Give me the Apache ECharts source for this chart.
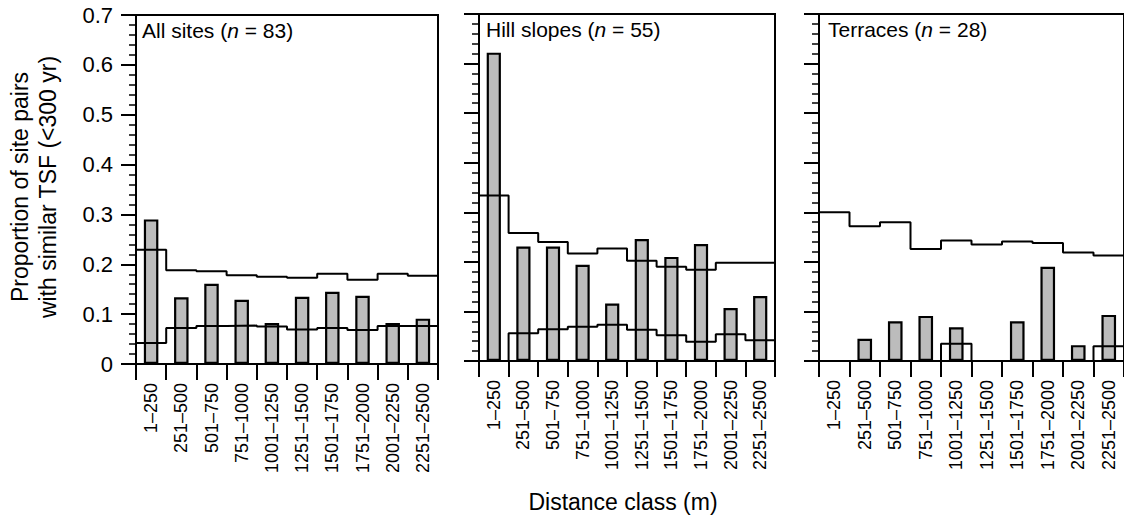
<!DOCTYPE html>
<html><head><meta charset="utf-8">
<script src="https://cdn.jsdelivr.net/npm/echarts@6/dist/echarts.min.js"></script>
<style>html,body{margin:0;padding:0;background:#fff}#c{width:1124px;height:525px}</style>
</head><body><div id="c"></div>
<script>
// ---- data ----
const categories = ['1–250','251–500','501–750','751–1000','1001–1250','1251–1500','1501–1750','1751–2000','2001–2250','2251–2500'];
const yTicks = [0, 0.1, 0.2, 0.3, 0.4, 0.5, 0.6, 0.7];

const allBars  = [0.290, 0.134, 0.161, 0.129, 0.082, 0.135, 0.145, 0.137, 0.082, 0.091];
const allUpper = [0.229, 0.188, 0.186, 0.178, 0.175, 0.173, 0.181, 0.169, 0.181, 0.177];
const allLower = [0.042, 0.072, 0.076, 0.077, 0.075, 0.069, 0.072, 0.068, 0.076, 0.076];

const hillBars  = [0.622, 0.231, 0.231, 0.194, 0.116, 0.246, 0.210, 0.236, 0.107, 0.131];
const hillUpper = [0.334, 0.258, 0.240, 0.217, 0.227, 0.202, 0.190, 0.184, 0.198, 0.198];
const hillLower = [0.000, 0.056, 0.064, 0.069, 0.073, 0.063, 0.052, 0.039, 0.054, 0.042];

const terrBars  = [0.000, 0.045, 0.080, 0.091, 0.068, 0.000, 0.080, 0.190, 0.032, 0.093];
const terrUpper = [0.300, 0.272, 0.280, 0.226, 0.243, 0.235, 0.241, 0.238, 0.219, 0.213];
const terrLower = [0.000, 0.000, 0.000, 0.000, 0.035, 0.000, 0.000, 0.000, 0.000, 0.030];

const titles = [['All sites (', 'n', ' = 83)'], ['Hill slopes (', 'n', ' = 55)'], ['Terraces (', 'n', ' = 28)']];
const yName = 'Proportion of site pairs\nwith similar TSF (<300 yr)';
const xName = 'Distance class (m)';

// ---- layout / style ----
const FONT = "'Liberation Sans', Arial, Helvetica, sans-serif";
const grids = [
  {left:136, top:15, width:302, height:349},
  {left:479, top:14, width:296, height:347},
  {left:819, top:14, width:308, height:347}
];
const titlePos = [{left:142, top:20}, {left:486, top:19}, {left:828, top:19}];
const panels = [
  {bars: allBars,  upper: allUpper,  lower: allLower},
  {bars: hillBars, upper: hillUpper, lower: hillLower},
  {bars: terrBars, upper: terrUpper, lower: terrLower}
];

function stepData(vals) {
  const d = vals.map((v, i) => [i, v]);
  d.push([vals.length, vals[vals.length - 1]]);
  return d;
}

const option = {
  animation: false,
  backgroundColor: '#fff',
  textStyle: {fontFamily: FONT},
  grid: grids.map(g => Object.assign({show: true, borderColor: '#000', borderWidth: 2, backgroundColor: 'transparent'}, g)),
  title: titles.map((t, i) => ({
    text: `{r|${t[0]}}{i|${t[1]}}{r|${t[2]}}`,
    left: titlePos[i].left, top: titlePos[i].top, padding: 0,
    textStyle: {fontWeight: 'normal', rich: {
      r: {fontSize: 21, fontFamily: FONT, fontWeight: 'normal', color: '#000'},
      i: {fontSize: 21, fontFamily: FONT, fontWeight: 'normal', fontStyle: 'italic', color: '#000'}
    }}
  })),
  xAxis: [],
  yAxis: [],
  series: [],
  graphic: [
    {type: 'text', x: 34, y: 187, rotation: Math.PI / 2,
     style: {text: yName, font: `23px ${FONT}`, fill: '#000', align: 'center', verticalAlign: 'middle', lineHeight: 28}},
    {type: 'text', x: 623, y: 502,
     style: {text: xName, font: `23px ${FONT}`, fill: '#000', align: 'center', verticalAlign: 'middle'}}
  ]
};

panels.forEach((p, i) => {
  option.xAxis.push({
    type: 'category', gridIndex: i, data: categories,
    axisLine: {show: true, lineStyle: {color: '#000', width: 2}},
    axisTick: {show: true, length: 16, lineStyle: {color: '#000', width: 2}},
    axisLabel: {rotate: 90, fontSize: 18, color: '#000', margin: 19, fontFamily: FONT, interval: 0},
    splitLine: {show: false}
  });
  option.xAxis.push({type: 'value', gridIndex: i, min: 0, max: categories.length, show: false});
  option.yAxis.push({
    type: 'value', gridIndex: i, min: yTicks[0], max: yTicks[yTicks.length - 1], interval: 0.1,
    axisLine: {show: true, lineStyle: {color: '#000', width: 2}},
    axisTick: {show: true, length: 15, lineStyle: {color: '#000', width: 2}},
    minorTick: {show: true, splitNumber: 5, length: 7, lineStyle: {color: '#000', width: 1.5}},
    splitLine: {show: false}, minorSplitLine: {show: false},
    axisLabel: {show: i === 0, fontSize: 22, color: '#000', margin: 23, fontFamily: FONT,
      formatter: v => (v === 0 ? '0' : v.toFixed(1))}
  });
  option.series.push({
    type: 'bar', xAxisIndex: 2 * i, yAxisIndex: i, data: p.bars, barWidth: '48%', z: 2,
    itemStyle: {color: '#bcbcbc', borderColor: '#000', borderWidth: 2.2}
  });
  [p.upper, p.lower].forEach(arr => {
    option.series.push({
      type: 'line', xAxisIndex: 2 * i + 1, yAxisIndex: i, data: stepData(arr), step: 'end',
      symbol: 'none', clip: false, z: 3,
      lineStyle: {color: '#000', width: 2}
    });
  });
});

const chart = echarts.init(document.getElementById('c'), null, {renderer: 'svg'});
chart.setOption(option);
</script>
</body></html>
